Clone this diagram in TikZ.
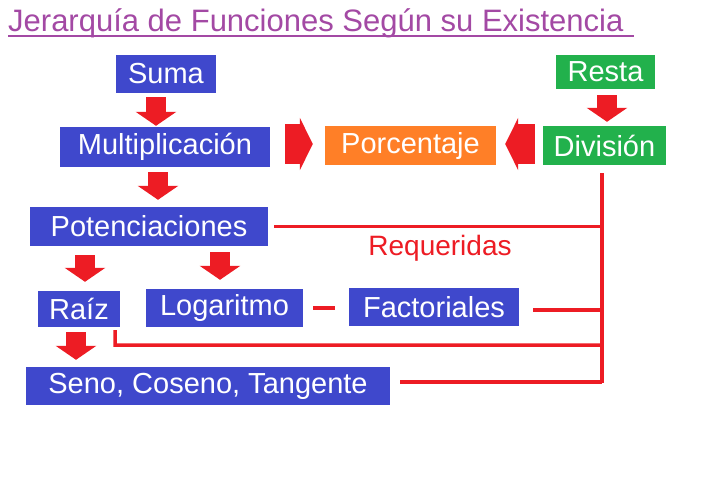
\documentclass[tikz,border=0pt]{standalone}
\usepackage{fontspec}
\setmainfont{Liberation Sans}
\usetikzlibrary{arrows.meta}
\definecolor{bx}{HTML}{3F48CC}
\definecolor{gr}{HTML}{22B14C}
\definecolor{og}{HTML}{FF7F27}
\definecolor{rd}{HTML}{ED1C24}
\definecolor{pu}{HTML}{A349A4}
\begin{document}
\begin{tikzpicture}[x=1pt,y=-1pt,
  box/.style={draw=none,text=white,inner sep=0pt,font=\fontsize{29}{29}\selectfont},
  dn/.style={rd,line width=20pt,-{Triangle[width=40pt,length=14pt]}},
  hz/.style={rd,line width=40pt,-{Triangle[width=52pt,length=13pt]}},
  ln/.style={rd,line width=3.5pt}]
\useasboundingbox[fill=white] (0,0) rectangle (720,480);
\node[anchor=base west,text=pu,font=\fontsize{31}{31}\selectfont,inner sep=0pt] (title) at (8,31) {Jerarquía de Funciones Según su Existencia};
\draw[pu,line width=1.5pt] (title.base west)++(0,5) -- ++(626,0) coordinate (tend);
\node[box,fill=bx,minimum width=100pt,minimum height=38pt] (suma) at (166,74) {Suma};
\node[box,fill=bx,minimum width=210pt,minimum height=40pt] (mult) at (165,147) {Multiplicación};
\node[box,fill=og,minimum width=171pt,minimum height=39pt] (porc) at (410.5,145.5) {Porcentaje};
\node[box,fill=gr,minimum width=123pt,minimum height=39pt] (div) at (604.5,145.5) {División};
\node[box,fill=gr,minimum width=99pt,minimum height=34pt] (resta) at (605.5,72) {Resta};
\node[box,fill=bx,minimum width=238pt,minimum height=39pt] (pot) at (149,226.5) {Potenciaciones};
\node[box,fill=bx,minimum width=82pt,minimum height=36pt] (raiz) at (79,309) {Raíz};
\node[box,fill=bx,minimum width=157pt,minimum height=38pt] (log) at (224.5,308) {Logaritmo};
\node[box,fill=bx,minimum width=170pt,minimum height=38pt] (fact) at (434,307) {Factoriales};
\node[box,fill=bx,minimum width=364pt,minimum height=38pt] (seno) at (208,386) {Seno, Coseno, Tangente};
\node[text=rd,inner sep=0pt,font=\fontsize{28}{28}\selectfont] (req) at (440,248) {Requeridas};
% block arrows
\draw[dn,shorten <=4pt,shorten >=1pt] (suma.south -| 156,0) -- (mult.north -| 156,0);
\draw[dn,shorten <=5pt,shorten >=7pt] (mult.south -| 158,0) -- (pot.north -| 158,0);
\draw[dn,shorten <=6pt,shorten >=4pt] (resta.south -| 607,0) -- (div.north -| 607,0);
\draw[dn,shorten <=9pt,shorten >=9pt] (pot.south -| 85,0) -- (raiz.north -| 85,0);
\draw[dn,shorten <=6pt,shorten >=9pt] (pot.south -| 220,0) -- (log.north -| 220,0);
\draw[dn,shorten <=5pt,shorten >=7pt] (raiz.south -| 76,0) -- (seno.north -| 76,0);
\draw[hz,shorten <=15pt,shorten >=12pt] (mult.east |- 0,144) -- (porc.west |- 0,144);
\draw[hz,shorten <=8pt,shorten >=9pt] (div.west |- 0,144) -- (porc.east |- 0,144);
% red connector lines
\coordinate (vt) at (602,173);
\coordinate (vb) at (602,383);
\draw[ln] (vt) -- (vb);
\draw[ln] ([xshift=6pt]pot.east) -- (pot.east -| vt);
\draw[ln] ([xshift=14pt]fact.east |- 0,310) -- (vt |- 0,310);
\draw[ln] ([xshift=-5pt]raiz.south east) ++(0,3) -- ++(0,15) -- (vt |- 0,345);
\draw[ln] ([xshift=10pt]seno.east |- 0,382) -- (vt |- 0,382);
\draw[ln] ([xshift=10pt]log.east |- 0,308) -- ([xshift=-14pt]fact.west |- 0,308);
\end{tikzpicture}
\end{document}
